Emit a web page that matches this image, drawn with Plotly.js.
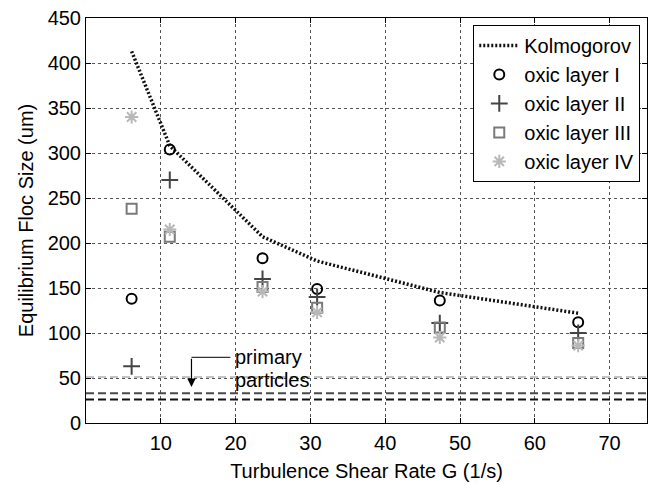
<!DOCTYPE html>
<html>
<head>
<meta charset="utf-8">
<script src="https://cdn.plot.ly/plotly-3.0.1.min.js"></script>
<style>html,body{margin:0;padding:0;background:#fff;}#chart{width:650px;height:484px;}</style>
</head>
<body>
<div id="chart"></div>
<script>
// Data
const shearRate = [6.1, 11.2, 23.6, 30.9, 47.3, 65.8];
const kolmogorov = [413, 308, 207, 180, 145, 122];
const layerI = [138, 304, 183, 149, 136, 112];
const layerII = [63, 270, 160, 140, 111, 100];
const layerIII = [238, 207, 151, 128, 106, 89];
const layerIV = [340, 215, 146, 123, 95, 86];
const seriesNames = ['Kolmogorov', 'oxic layer I', 'oxic layer II', 'oxic layer III', 'oxic layer IV'];
const particleLevels = [51, 33, 26];
const particleColors = ['#c4c4c4', '#4a4a4a', '#111111'];
const xRange = [0, 75];
const yRange = [0, 450];
const xTicks = [10, 20, 30, 40, 50, 60, 70];
const yTicks = [0, 50, 100, 150, 200, 250, 300, 350, 400, 450];
const arrowTip = [14.1, 40];
const arrowElbow = [14.1, 73];
const labelStart = [19.6, 73];
const labelLines = ['primary', 'particles'];

const FONT = 'Liberation Sans, Arial, sans-serif';
const FS = 20;

const traces = [];
// particle size reference lines
particleLevels.forEach((lv, i) => {
  traces.push({
    x: xRange, y: [lv, lv], mode: 'lines', showlegend: false, hoverinfo: 'skip',
    line: {color: particleColors[i], width: 2, dash: '8px,4px'}
  });
});
traces.push({
  x: shearRate, y: kolmogorov, name: seriesNames[0], mode: 'lines',
  line: {color: '#111', width: 3.5, dash: '2px,2px'}
});
traces.push({
  x: shearRate, y: layerI, name: seriesNames[1], mode: 'markers',
  marker: {symbol: 'circle-open', size: 10, color: '#000', line: {width: 2, color: '#000'}}
});
traces.push({
  x: shearRate, y: layerII, name: seriesNames[2], mode: 'markers',
  marker: {symbol: 'cross-thin-open', size: 12, color: '#444', line: {width: 2, color: '#444'}}
});
traces.push({
  x: shearRate, y: layerIII, name: seriesNames[3], mode: 'markers',
  marker: {symbol: 'square-open', size: 10, color: '#7a7a7a', line: {width: 2, color: '#7a7a7a'}}
});
traces.push({
  x: shearRate, y: layerIV, name: seriesNames[4], mode: 'markers',
  marker: {symbol: 'asterisk-open', size: 11, color: '#b8b8b8', line: {width: 2, color: '#b8b8b8'}}
});

const axisCommon = {
  showline: true, linecolor: '#000', linewidth: 1, mirror: 'ticks',
  ticks: 'inside', ticklen: 5, tickcolor: '#000',
  showgrid: true, gridcolor: '#555', griddash: 'dot', gridwidth: 1,
  zeroline: false, tickfont: {family: FONT, size: FS, color: '#000'}
};

const layout = {
  width: 650, height: 484,
  margin: {l: 86, r: 3, t: 18, b: 61},
  paper_bgcolor: '#fff', plot_bgcolor: '#fff',
  font: {family: FONT, size: FS, color: '#000'},
  xaxis: Object.assign({}, axisCommon, {
    range: xRange, tickvals: xTicks, ticklabelstandoff: 2,
    title: {text: 'Turbulence Shear Rate G (1/s)', font: {family: FONT, size: FS}, standoff: 10}
  }),
  yaxis: Object.assign({}, axisCommon, {
    range: yRange, tickvals: yTicks,
    title: {text: 'Equilibrium Floc Size (um)', font: {family: FONT, size: FS}, standoff: 8}
  }),
  legend: {
    x: 0.988, y: 0.983, xanchor: 'right', yanchor: 'top',
    bgcolor: '#fff', bordercolor: '#000', borderwidth: 1,
    font: {family: FONT, size: FS, color: '#000'},
    tracegroupgap: 0, itemwidth: 40
  },
  shapes: [{
    type: 'line', xref: 'x', yref: 'y',
    x0: arrowElbow[0], y0: arrowElbow[1], x1: labelStart[0] - 0.3, y1: labelStart[1],
    line: {color: '#000', width: 1}
  }],
  annotations: [{
    x: arrowTip[0], y: arrowTip[1], ax: arrowElbow[0], ay: arrowElbow[1],
    xref: 'x', yref: 'y', axref: 'x', ayref: 'y',
    text: '', showarrow: true, arrowhead: 2, arrowsize: 1.4, arrowwidth: 1.2, arrowcolor: '#000'
  }, {
    x: labelStart[0], y: labelStart[1], xref: 'x', yref: 'y',
    xanchor: 'left', yanchor: 'middle', yshift: 0,
    text: labelLines[0], showarrow: false, font: {family: FONT, size: FS, color: '#000'}
  }, {
    x: labelStart[0], y: labelStart[1], xref: 'x', yref: 'y',
    xanchor: 'left', yanchor: 'middle', yshift: -23,
    text: labelLines[1], showarrow: false, font: {family: FONT, size: FS, color: '#000'}
  }]
};

Plotly.newPlot('chart', traces, layout, {staticPlot: true, displayModeBar: false});
</script>
</body>
</html>
